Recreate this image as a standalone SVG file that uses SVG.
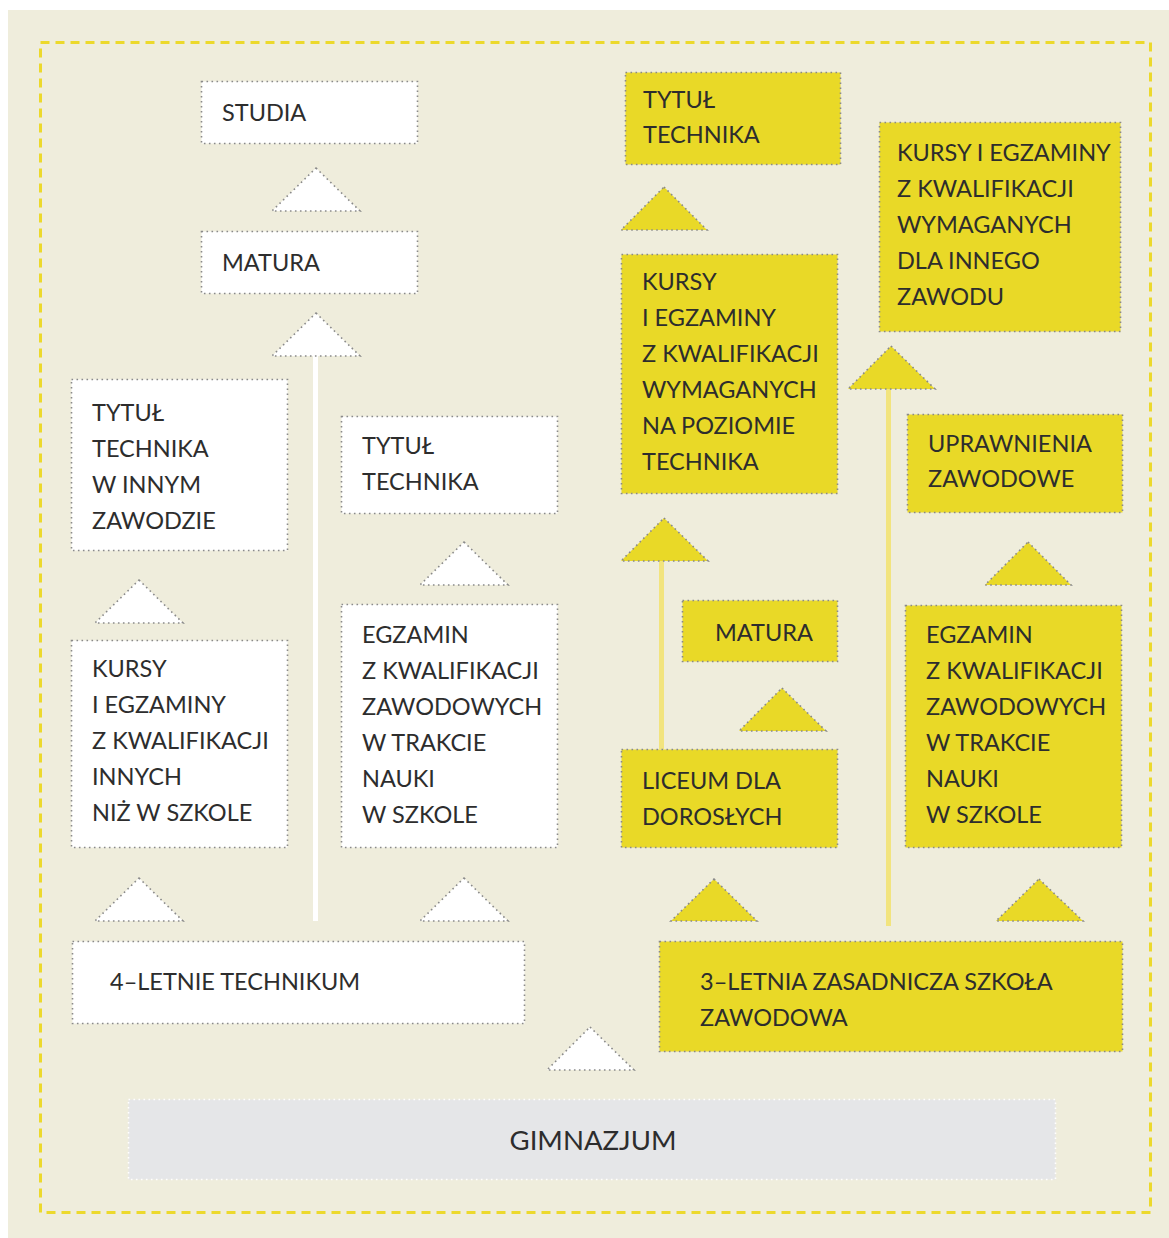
<svg xmlns="http://www.w3.org/2000/svg" width="1169" height="1238" viewBox="0 0 1169 1238">
<style>
.bg{fill:#efeddc}
.frame{fill:none;stroke:#ecd92c;stroke-width:3;stroke-dasharray:9 6}
.w{fill:#ffffff;stroke:#8a8a8a;stroke-width:1.6;stroke-dasharray:1.6 3.4}
.y{fill:#e9d927;stroke:#8a8a8a;stroke-width:1.6;stroke-dasharray:1.6 3.4}
.g{fill:#e5e6e8;stroke:#ffffff;stroke-width:1.6;stroke-dasharray:1.6 3.4}
.t{font-family:Lato,"Open Sans","Noto Sans",sans-serif;font-size:23.5px;fill:#2d2d2d}
.big{font-size:27.5px}
.wl{fill:#ffffff}
.yl{fill:#f2e47e}
</style>
<rect x="0" y="0" width="1169" height="1238" fill="#ffffff"/>
<rect class="bg" x="8" y="10" width="1161" height="1228"/>
<rect class="frame" x="40.5" y="42.5" width="1110" height="1170"/>

<g id="connectors">
  <rect class="wl" x="313" y="356" width="5" height="565"/>
  <rect class="yl" x="659" y="561" width="5" height="188"/>
  <rect class="yl" x="886" y="389" width="5" height="537"/>
  <polygon class="w" points="316,168 360,211 272,211"/>
  <polygon class="w" points="316,313 360,356 272,356"/>
  <polygon class="w" points="139,580 183,623 95,623"/>
  <polygon class="w" points="139,878 183,921 95,921"/>
  <polygon class="w" points="464,542 508,585 420,585"/>
  <polygon class="w" points="464,878 508,921 420,921"/>
  <polygon class="w" points="590,1027 634,1070 547,1070"/>
  <polygon class="y" points="664,187 707,230 621,230"/>
  <polygon class="y" points="664,518 708,561 621,561"/>
  <polygon class="y" points="782,688 826,731 739,731"/>
  <polygon class="y" points="714,879 757,921 671,921"/>
  <polygon class="y" points="891,346 935,389 848,389"/>
  <polygon class="y" points="1028,542 1071,585 985,585"/>
  <polygon class="y" points="1039,879 1083,921 996,921"/>
</g>

<g id="studia">
  <rect class="w" x="201.5" y="81.5" width="216" height="62"/>
  <text class="t" x="222" y="121">STUDIA</text>
</g>
<g id="matura">
  <rect class="w" x="201.5" y="231.5" width="216" height="62"/>
  <text class="t" x="222" y="271">MATURA</text>
</g>
<g id="tytul-innym">
  <rect class="w" x="71.5" y="379.5" width="216" height="171"/>
  <text class="t" x="92" y="421">TYTUŁ</text>
  <text class="t" x="92" y="457">TECHNIKA</text>
  <text class="t" x="92" y="493">W INNYM</text>
  <text class="t" x="92" y="529">ZAWODZIE</text>
</g>
<g id="kursy-innych">
  <rect class="w" x="71.5" y="640.5" width="216" height="207"/>
  <text class="t" x="92" y="677">KURSY</text>
  <text class="t" x="92" y="713">I EGZAMINY</text>
  <text class="t" x="92" y="749">Z KWALIFIKACJI</text>
  <text class="t" x="92" y="785">INNYCH</text>
  <text class="t" x="92" y="821">NIŻ W SZKOLE</text>
</g>
<g id="tytul-technika-w">
  <rect class="w" x="341.5" y="416.5" width="216" height="97"/>
  <text class="t" x="362" y="454">TYTUŁ</text>
  <text class="t" x="362" y="490">TECHNIKA</text>
</g>
<g id="egzamin-w">
  <rect class="w" x="341.5" y="604.5" width="216" height="243"/>
  <text class="t" x="362" y="643">EGZAMIN</text>
  <text class="t" x="362" y="679">Z KWALIFIKACJI</text>
  <text class="t" x="362" y="715">ZAWODOWYCH</text>
  <text class="t" x="362" y="751">W TRAKCIE</text>
  <text class="t" x="362" y="787">NAUKI</text>
  <text class="t" x="362" y="823">W SZKOLE</text>
</g>
<g id="technikum">
  <rect class="w" x="72.5" y="941.5" width="452" height="82"/>
  <text class="t" x="110" y="990">4–LETNIE TECHNIKUM</text>
</g>
<g id="gimnazjum">
  <rect class="g" x="128.5" y="1099.5" width="927" height="80"/>
  <text class="t big" x="593" y="1150" text-anchor="middle">GIMNAZJUM</text>
</g>

<g id="tytul-technika-y">
  <rect class="y" x="625.5" y="72.5" width="215" height="92"/>
  <text class="t" x="643" y="108">TYTUŁ</text>
  <text class="t" x="643" y="143">TECHNIKA</text>
</g>
<g id="kursy-technika">
  <rect class="y" x="621.5" y="254.5" width="216" height="239"/>
  <text class="t" x="642" y="290">KURSY</text>
  <text class="t" x="642" y="326">I EGZAMINY</text>
  <text class="t" x="642" y="362">Z KWALIFIKACJI</text>
  <text class="t" x="642" y="398">WYMAGANYCH</text>
  <text class="t" x="642" y="434">NA POZIOMIE</text>
  <text class="t" x="642" y="470">TECHNIKA</text>
</g>
<g id="kursy-innego">
  <rect class="y" x="879.5" y="122.5" width="241" height="209"/>
  <text class="t" x="897" y="161">KURSY I EGZAMINY</text>
  <text class="t" x="897" y="197">Z KWALIFIKACJI</text>
  <text class="t" x="897" y="233">WYMAGANYCH</text>
  <text class="t" x="897" y="269">DLA INNEGO</text>
  <text class="t" x="897" y="305">ZAWODU</text>
</g>
<g id="uprawnienia">
  <rect class="y" x="907.5" y="414.5" width="215" height="98"/>
  <text class="t" x="928" y="452">UPRAWNIENIA</text>
  <text class="t" x="928" y="487">ZAWODOWE</text>
</g>
<g id="matura-y">
  <rect class="y" x="682.5" y="600.5" width="155" height="61"/>
  <text class="t" x="715" y="641">MATURA</text>
</g>
<g id="liceum">
  <rect class="y" x="621.5" y="749.5" width="216" height="98"/>
  <text class="t" x="642" y="789">LICEUM DLA</text>
  <text class="t" x="642" y="825">DOROSŁYCH</text>
</g>
<g id="egzamin-y">
  <rect class="y" x="905.5" y="605.5" width="216" height="242"/>
  <text class="t" x="926" y="643">EGZAMIN</text>
  <text class="t" x="926" y="679">Z KWALIFIKACJI</text>
  <text class="t" x="926" y="715">ZAWODOWYCH</text>
  <text class="t" x="926" y="751">W TRAKCIE</text>
  <text class="t" x="926" y="787">NAUKI</text>
  <text class="t" x="926" y="823">W SZKOLE</text>
</g>
<g id="zasadnicza">
  <rect class="y" x="659.5" y="941.5" width="463" height="110"/>
  <text class="t" x="700" y="990">3–LETNIA ZASADNICZA SZKOŁA</text>
  <text class="t" x="700" y="1026">ZAWODOWA</text>
</g>
</svg>
